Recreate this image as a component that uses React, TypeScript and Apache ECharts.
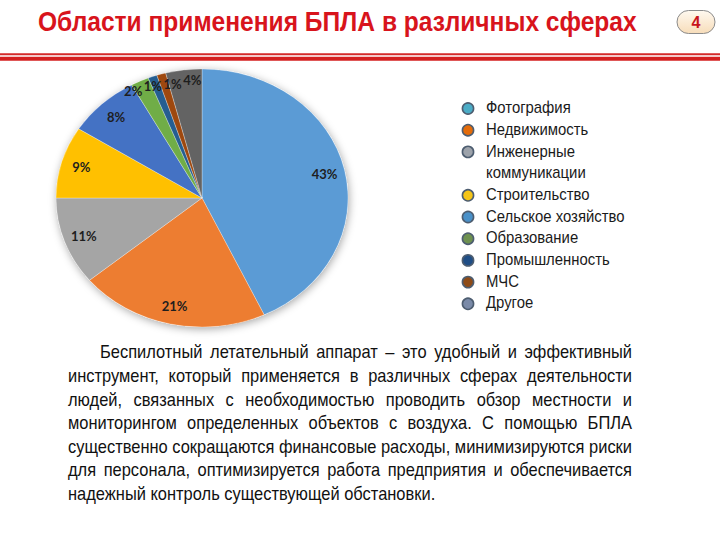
import React, { useEffect, useRef } from "react";
import * as echarts from "echarts";

const TITLE = "Области применения БПЛА в различных сферах";
const PAGE_NO = "4";
const categories = [
  "Фотография",
  "Недвижимость",
  "Инженерные коммуникации",
  "Строительство",
  "Сельское хозяйство",
  "Образование",
  "Промышленность",
  "МЧС",
  "Другое",
];
const shares = [43, 21, 11, 9, 8, 2, 1, 1, 4];
const sliceColors = ["#5B9BD5", "#ED7D31", "#A5A5A5", "#FFC000", "#4472C4", "#70AD47", "#255E91", "#9E480E", "#636363"];
const legendColors = ["#4BACC6", "#E46C0A", "#9DA3AB", "#F5C518", "#4A91C9", "#6E9150", "#1F4E86", "#8E4B17", "#7A8AA8"];
const legendLabels = [
  ["Фотография"],
  ["Недвижимость"],
  ["Инженерные", "коммуникации"],
  ["Строительство"],
  ["Сельское хозяйство"],
  ["Образование"],
  ["Промышленность"],
  ["МЧС"],
  ["Другое"],
];
const paragraphLines = [
  "Беспилотный летательный аппарат – это удобный и эффективный",
  "инструмент, который применяется в различных сферах деятельности",
  "людей, связанных с необходимостью проводить обзор местности и",
  "мониторингом определенных объектов с воздуха. С помощью БПЛА",
  "существенно сокращаются финансовые расходы, минимизируются риски",
  "для персонала, оптимизируется работа предприятия и обеспечивается",
  "надежный контроль существующей обстановки.",
];

const CX = 202, CY = 198, RX = 146, RY = 129;
const FONT = "Liberation Sans";
const LABEL_FONT = "Lato";
const LABEL_SIZE = 13;

function measure(text: string, font: string): number {
  const c = document.createElement("canvas");
  const ctx = c.getContext("2d")!;
  ctx.font = font;
  return ctx.measureText(text).width;
}

export default function App() {
  const ref = useRef<HTMLDivElement>(null);
  useEffect(() => {
    if (!ref.current) return;
    const chart = echarts.init(ref.current, undefined, { renderer: "svg" });

    // cumulative pie data
    let cum = 0;
    const pieData = shares.map((v, i) => {
      const d = { name: categories[i], value: [v, cum, i] };
      cum += v;
      return d;
    });
    const total = cum;

    // label positions (from mid angles), then spread small ones apart
    const labelFont = `bold ${LABEL_SIZE}px "${LABEL_FONT}"`;
    const labelPos = pieData.map((d) => {
      const v = d.value[0], s = d.value[1];
      const mid = ((s + v / 2) / total) * Math.PI * 2;
      const f = v >= 5 ? 0.86 : 0.92;
      return {
        x: CX + f * RX * Math.sin(mid),
        y: CY - f * RY * Math.cos(mid),
        w: measure(v + "%", labelFont),
      };
    });
    const small = shares.map((v, i) => i).filter((i) => shares[i] < 5).sort((a, b) => labelPos[a].x - labelPos[b].x);
    for (let it = 0; it < 80; it++) {
      for (let j = 0; j < small.length - 1; j++) {
        const a = labelPos[small[j]], b = labelPos[small[j + 1]];
        const need = (a.w + b.w) / 2 + 1.5;
        const d = need - (b.x - a.x);
        if (d > 0) {
          a.x -= d / 2;
          b.x += d / 2;
        }
      }
    }

    const renderItem = (params: any, api: any) => {
      const v = api.value(0);
      const s = api.value(1);
      const i = params.dataIndex;
      const a0 = (s / total) * Math.PI * 2;
      const a1 = ((s + v) / total) * Math.PI * 2;
      return {
        type: "group",
        children: [
          {
            type: "group",
            x: CX,
            y: CY,
            scaleY: RY / RX,
            children: [
              {
                type: "sector",
                shape: { cx: 0, cy: 0, r0: 0, r: RX, startAngle: a0 - Math.PI / 2, endAngle: a1 - Math.PI / 2, clockwise: true },
                style: { fill: sliceColors[i], stroke: "rgba(255,255,255,0.5)", lineWidth: 0.6 },
              },
            ],
          },
          {
            type: "text",
            x: labelPos[i].x,
            y: labelPos[i].y,
            z2: 10,
            style: {
              text: v + "%",
              fill: "#1e1e1e",
              fontFamily: LABEL_FONT,
              fontWeight: "bold",
              fontSize: LABEL_SIZE,
              align: "center",
              verticalAlign: "middle",
            },
          },
        ],
      };
    };

    const elements: any[] = [];
    // header lines
    elements.push({ type: "rect", shape: { x: 0, y: 53.3, width: 720, height: 2 }, style: { fill: "#D42A2A" } });
    elements.push({ type: "rect", shape: { x: 0, y: 56.7, width: 720, height: 4 }, style: { fill: "#D42020" } });

    // title
    const titleFont = `bold 27px "${FONT}"`;
    const tScale = 599 / measure(TITLE, titleFont);
    elements.push({
      type: "text",
      x: 38,
      y: 22,
      scaleX: tScale,
      style: { text: TITLE, fill: "#D8141C", fontFamily: FONT, fontWeight: "bold", fontSize: 27, verticalAlign: "middle", align: "left" },
    });

    // badge
    elements.push({
      type: "rect",
      shape: { x: 677, y: 10.5, width: 38, height: 23, r: 11.5 },
      style: {
        fill: new echarts.graphic.LinearGradient(0, 0, 0, 1, [
          { offset: 0, color: "#FFF9F0" },
          { offset: 1, color: "#F7DDBA" },
        ]),
        stroke: "#8C8C8C",
        lineWidth: 1,
      },
    });
    elements.push({
      type: "text",
      x: 696,
      y: 22.5,
      style: { text: PAGE_NO, fill: "#C8141C", fontFamily: FONT, fontWeight: "bold", fontSize: 16, align: "center", verticalAlign: "middle" },
    });

    // pie shadow
    elements.push({
      type: "ellipse",
      z: 0,
      shape: { cx: CX, cy: CY, rx: RX, ry: RY },
      style: { fill: "#fff", shadowBlur: 8, shadowColor: "rgba(0,0,0,0.35)", shadowOffsetX: 1, shadowOffsetY: 2 },
    });

    // legend
    const legSize = 16;
    const legScale = 0.93;
    let row = 0;
    const legY0 = 107.5, legStep = 21.7;
    legendLabels.forEach((lines, i) => {
      const y = legY0 + row * legStep;
      elements.push({
        type: "circle",
        shape: { cx: 468, cy: y + 1, r: 5.6 },
        style: { fill: legendColors[i], stroke: "#4D5D70", lineWidth: 1.6 },
      });
      lines.forEach((ln, k) => {
        elements.push({
          type: "text",
          x: 486,
          y: y + k * legStep,
          scaleX: legScale,
          style: { text: ln, fill: "#1a1a1a", fontFamily: FONT, fontSize: legSize, verticalAlign: "middle", align: "left" },
        });
      });
      row += lines.length;
    });

    // paragraph, justified
    const pSize = 19;
    const pFont = `${pSize}px "${FONT}"`;
    const left = 68, right = 632, indent = 100;
    const pScale = (right - left) / measure(paragraphLines[4], pFont);
    const spaceW = measure(" ", pFont) * pScale;
    const py0 = 352, pStep = 23.6;
    paragraphLines.forEach((line, li) => {
      const words = line.split(" ");
      const x0 = li === 0 ? indent : left;
      const widths = words.map((w) => measure(w, pFont) * pScale);
      const sumW = widths.reduce((a, b) => a + b, 0);
      const last = li === paragraphLines.length - 1;
      const gap = last ? spaceW : (right - x0 - sumW) / (words.length - 1);
      let x = x0;
      const y = py0 + li * pStep;
      words.forEach((w, wi) => {
        elements.push({
          type: "text",
          x,
          y,
          scaleX: pScale,
          style: { text: w, fill: "#111", fontFamily: FONT, fontSize: pSize, verticalAlign: "middle", align: "left" },
        });
        x += widths[wi] + gap;
      });
    });

    chart.setOption({
      animation: false,
      backgroundColor: "#ffffff",
      graphic: { elements },
      series: [
        {
          type: "custom",
          coordinateSystem: "none",
          silent: true,
          z: 2,
          renderItem,
          data: pieData,
        },
      ],
    });
    return () => chart.dispose();
  }, []);
  return <div ref={ref} style={{ position: "fixed", left: 0, top: 0, width: 720, height: 540 }} />;
}
